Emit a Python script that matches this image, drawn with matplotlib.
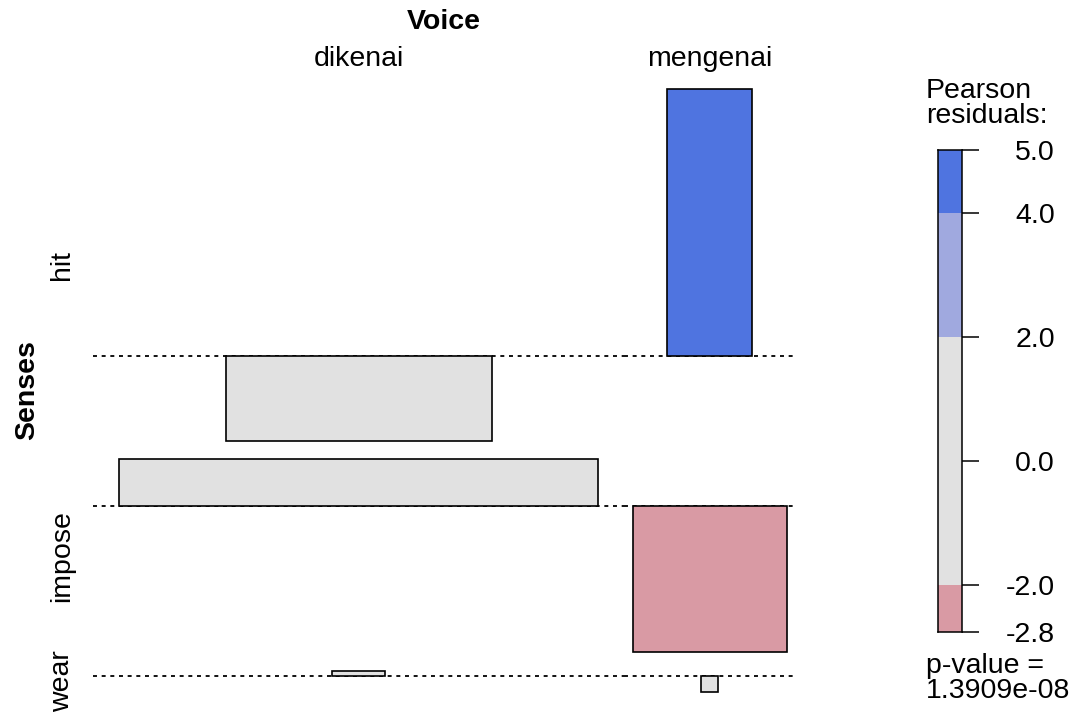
import numpy as np
import matplotlib
matplotlib.use('Agg')
import matplotlib.pyplot as plt
from matplotlib.transforms import blended_transform_factory

plt.rcParams['font.family'] = ['Liberation Sans', 'DejaVu Sans']

# counts: Senses (rows) x Voice (columns)
senses = ['hit', 'impose', 'wear']
voice = ['dikenai', 'mengenai']
dikenai = [15, 81, 1]
mengenai = [10, 0, 0]

# shading levels for the Pearson residuals
breaks = [-4.0, -2.0, 2.0, 4.0]
level_colors = ['#C0485F', '#D99AA4', '#E1E1E1', '#A0A9DF', '#4F74E0']

obs = np.column_stack([dikenai, mengenai]).astype(float)
n = obs.sum()
expected = np.outer(obs.sum(axis=1), obs.sum(axis=0)) / n
resid = (obs - expected) / np.sqrt(expected)
chi2 = (resid ** 2).sum()
pval = np.exp(-chi2 / 2)  # df = (3-1)*(2-1) = 2


def shade(r):
    return level_colors[np.searchsorted(breaks, r)]


W, H = 1074, 713
fig = plt.figure(figsize=(W / 100, H / 100), dpi=100)
fs = 20.5

# column widths follow sqrt(expected), rows follow the residual range
sq = np.sqrt(expected)
colw = sq.max(axis=0) * 1.11
col_left = np.concatenate([[0], np.cumsum(colw)[:-1]])
col_mid = col_left + colw / 2

gap = 0.34
tops = np.maximum(resid.max(axis=1), 0)
bots = np.minimum(resid.min(axis=1), 0)
base = []
y = 0.0
for t, b in zip(tops, bots):
    y -= t
    base.append(y)
    y += b - gap
ybot = y + gap
base = np.array(base)

ax = fig.add_axes([93 / W, 21 / H, 702 / W, 603 / H])
ax.set_xlim(0, colw.sum())
ax.set_ylim(ybot, 0)
ax.axis('off')

for i in range(len(senses)):
    ax.hlines([base[i]] * len(voice), col_left, col_left + colw, colors='black',
              linestyles=(0, (2.2, 2.6)), linewidth=1.3, zorder=1)
    ax.bar(col_mid, resid[i], width=sq[i], bottom=base[i],
           color=[shade(r) for r in resid[i]], edgecolor='black',
           linewidth=1.2, zorder=2, clip_on=False)

# column labels and variable names
tr_x = blended_transform_factory(ax.transData, fig.transFigure)
for j, lab in enumerate(voice):
    ax.text(col_mid[j], 1 - 66 / H, lab, transform=tr_x, ha='center',
            va='baseline', fontsize=fs)
fig.text(444 / W, 1 - 29 / H, 'Voice', ha='center', va='baseline',
         fontsize=fs, fontweight='bold')

tr_y = blended_transform_factory(fig.transFigure, ax.transData)
for i, lab in enumerate(senses):
    yc = base[i] + (tops[i] + bots[i]) / 2
    ax.text(62 / W, yc, lab, transform=tr_y, ha='center', va='center',
            rotation=90, fontsize=fs)
fig.text(27 / W, 1 - 390 / H, 'Senses', ha='center', va='center',
         rotation=90, fontsize=fs, fontweight='bold')

# legend bar
lax = fig.add_axes([938 / W, 81 / H, 24 / W, 482 / H])
rmin, rmax = resid.min(), resid.max()
lax.set_ylim(rmin, rmax)
lax.set_xlim(0, 1)
edges = [rmin] + [b for b in breaks if rmin < b < rmax] + [rmax]
for lo, hi in zip(edges[:-1], edges[1:]):
    lax.axhspan(lo, hi, color=shade((lo + hi) / 2), lw=0)
ticks = sorted(set(edges + [0.0]))
lax.set_yticks(ticks)
lax.set_yticklabels(['%.1f' % t for t in ticks])
lax.set_xticks([])
lax.yaxis.tick_right()
lax.tick_params(axis='y', length=12.5, width=1.1, pad=54.5, labelsize=fs)
for lbl in lax.get_yticklabels():
    lbl.set_ha('right')
for sp in lax.spines.values():
    sp.set_linewidth(1.1)

fig.text(926 / W, 1 - 98 / H, 'Pearson', va='baseline', fontsize=fs)
fig.text(926 / W, 1 - 123 / H, 'residuals:', va='baseline', fontsize=fs)
fig.text(926 / W, 1 - 673 / H, 'p-value =', va='baseline', fontsize=fs)
fig.text(926 / W, 1 - 698 / H, '%.4e' % pval, va='baseline', fontsize=fs)

fig.savefig('out.png', dpi=100)
